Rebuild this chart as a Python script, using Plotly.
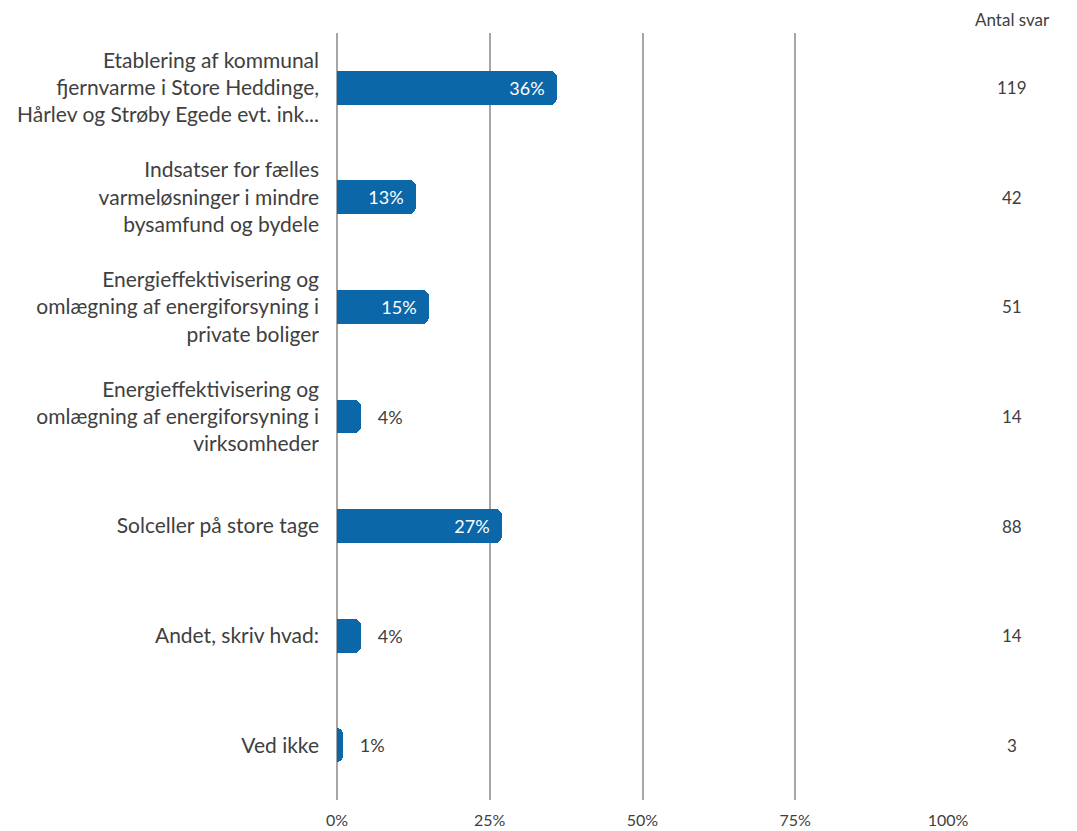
import plotly.graph_objects as go

# data
categories = [
    "Etablering af kommunal<br>fjernvarme i Store Heddinge,<br>Hårlev og Strøby Egede evt. ink...",
    "Indsatser for fælles<br>varmeløsninger i mindre<br>bysamfund og bydele",
    "Energieffektivisering og<br>omlægning af energiforsyning i<br>private boliger",
    "Energieffektivisering og<br>omlægning af energiforsyning i<br>virksomheder",
    "Solceller på store tage",
    "Andet, skriv hvad:",
    "Ved ikke",
]
shares = [0.36, 0.13, 0.15, 0.04, 0.27, 0.04, 0.01]
antal_svar = [119, 42, 51, 14, 88, 14, 3]
x_ticks = [0, 0.25, 0.5, 0.75, 1.0]
x_ticktext = ["0%", "25%", "50%", "75%", "100%"]

blue = "#0B67A8"
grey_text = "#404040"
font_family = "Lato, Open Sans, sans-serif"

positions = ["inside" if s >= 0.1 else "outside" for s in shares]
text_colors = ["white" if p == "inside" else grey_text for p in positions]
labels = [f"{round(s * 100)}%  " if p == "inside" else f"   {round(s * 100)}%"
          for s, p in zip(shares, positions)]

fig = go.Figure(
    go.Bar(
        x=shares,
        y=list(range(len(categories))),
        orientation="h",
        width=0.31,
        marker=dict(color=blue, cornerradius=7, line=dict(width=0)),
        text=labels,
        textposition=positions,
        insidetextanchor="end",
        textfont=dict(family=font_family, size=18, color=text_colors),
        cliponaxis=False,
    )
)

# "Antal svar" column
fig.add_annotation(
    x=1.0, xref="paper", xanchor="center", xshift=64,
    y=1.0, yref="paper", yanchor="bottom", yshift=1,
    text="Antal svar", showarrow=False,
    font=dict(family=font_family, size=17, color=grey_text),
)
for i, n in enumerate(antal_svar):
    fig.add_annotation(
        x=1.0, xref="paper", xanchor="center", xshift=64,
        y=i, yref="y",
        text=str(n), showarrow=False,
        font=dict(family=font_family, size=17, color=grey_text),
    )

# page body has an 8px margin, so the figure is a bit smaller than the window
fig.update_layout(
    width=1069,
    height=823,
    margin=dict(l=329, r=129, t=25, b=31, autoexpand=False),
    plot_bgcolor="white",
    paper_bgcolor="white",
    showlegend=False,
    bargap=0,
    xaxis=dict(
        range=[0, 1.0],
        tickvals=x_ticks,
        ticktext=x_ticktext,
        showgrid=True,
        gridcolor="#A6A6A6",
        gridwidth=1.5,
        zeroline=True,
        zerolinecolor="#A6A6A6",
        zerolinewidth=1.5,
        showline=False,
        automargin=False,
        ticklabelstandoff=9,
        tickfont=dict(family=font_family, size=16, color=grey_text),
    ),
    yaxis=dict(
        range=[6.5, -0.5],
        tickvals=list(range(len(categories))),
        ticktext=categories,
        showgrid=False,
        zeroline=False,
        automargin=False,
        ticklabelstandoff=17,
        tickfont=dict(family=font_family, size=21, color=grey_text),
    ),
)

fig.write_html("out.html")
